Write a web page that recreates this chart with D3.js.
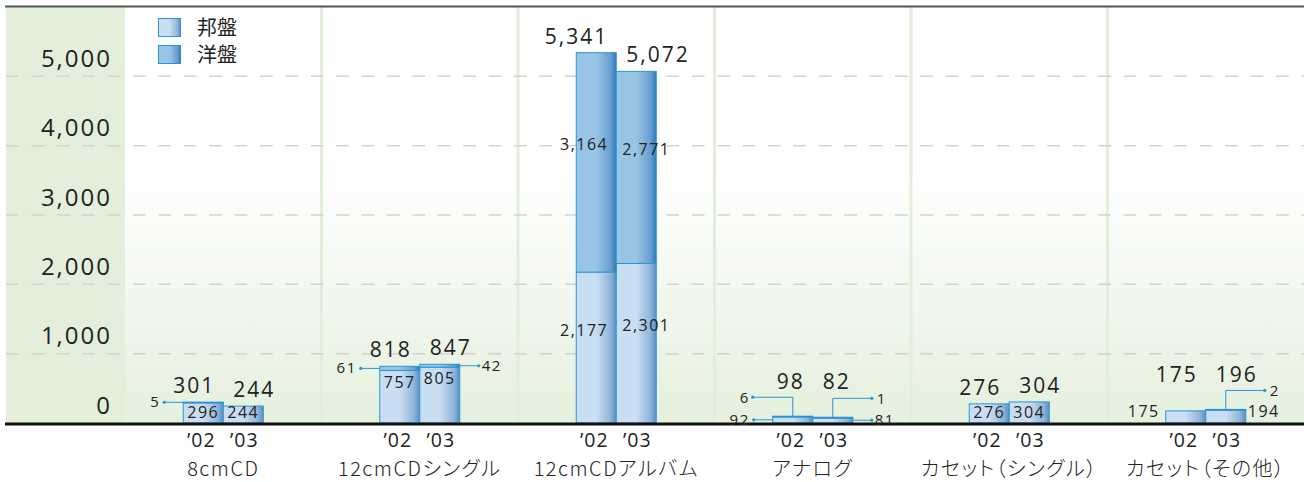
<!DOCTYPE html>
<html>
<head>
<meta charset="utf-8">
<script src="https://cdn.jsdelivr.net/npm/d3@7"></script>
<style>
  body { margin: 0; background: #fff; }
  svg { display: block; }
  .num { font-family: "Open Sans", sans-serif; fill: #222; }
  .jp { font-family: "Noto Sans CJK JP", sans-serif; fill: #222; font-feature-settings: "palt"; }
</style>
</head>
<body>
<div id="chart"></div>
<script>
// data
let categories = ["8cmCD", "12cmCDシングル", "12cmCDアルバム", "アナログ", "カセット（シングル）", "カセット（その他）"];
let years = ["’02", "’03"];
let series = ["邦盤", "洋盤"];
let domestic02 = [296, 757, 2177, 92, 276, 175];
let foreign02 = [5, 61, 3164, 6, 0, 0];
let domestic03 = [244, 805, 2301, 81, 304, 194];
let foreign03 = [0, 42, 2771, 1, 0, 2];
let yTicks = [0, 1000, 2000, 3000, 4000, 5000];

// how each small segment label is placed (in = inside bar)
let labelMode02 = [["in", "left"], ["in", "left"], ["mid", "mid"], ["left", "elbow"], ["in", "none"], ["side", "none"]];
let labelMode03 = [["in", "none"], ["in", "right"], ["mid", "mid"], ["right", "elbow"], ["in", "none"], ["side", "elbow"]];

let width = 1304, height = 482;
let plotLeft = 125, plotRight = 1304, plotTop = 7, base = 423;

let svg = d3.select("#chart").append("svg")
    .attr("width", width)
    .attr("height", height);

let defs = svg.append("defs");
let bg = defs.append("linearGradient").attr("id", "bg").attr("x1", 0).attr("x2", 0).attr("y1", 0).attr("y2", 1);
bg.append("stop").attr("offset", "0%").attr("stop-color", "#ffffff");
bg.append("stop").attr("offset", "40%").attr("stop-color", "#ffffff");
bg.append("stop").attr("offset", "100%").attr("stop-color", "#e5f0dd");

function barGrad(id, c1, c2, c3) {
    let g = defs.append("linearGradient").attr("id", id).attr("x1", 0).attr("x2", 1).attr("y1", 0).attr("y2", 0);
    g.append("stop").attr("offset", "0%").attr("stop-color", c1);
    g.append("stop").attr("offset", "50%").attr("stop-color", c1);
    g.append("stop").attr("offset", "85%").attr("stop-color", c2);
    g.append("stop").attr("offset", "100%").attr("stop-color", c3);
}
barGrad("dom", "#c9def2", "#90b6da", "#5a8fc2");
barGrad("for", "#98c4e6", "#6a9fcf", "#2f78b8");

let x = d3.scaleBand().domain(categories).range([plotLeft, plotRight]);
let xYear = d3.scaleBand().domain(years).range([x.bandwidth() / 2 - 40, x.bandwidth() / 2 + 40]);
let y = d3.scaleLinear().domain([0, 6000]).range([base, plotTop]);

// backgrounds
svg.append("rect").attr("x", plotLeft).attr("y", plotTop).attr("width", plotRight - plotLeft).attr("height", base - plotTop).attr("fill", "url(#bg)");
svg.append("rect").attr("x", 6).attr("y", plotTop).attr("width", plotLeft - 6).attr("height", base - plotTop).attr("fill", "#e3efdb");

// category separators
svg.selectAll(".sep").data(categories.slice(1)).enter()
    .append("line")
    .attr("x1", d => x(d)).attr("x2", d => x(d))
    .attr("y1", plotTop).attr("y2", base)
    .attr("stroke", "#e1eed9").attr("stroke-width", 3);

// grid
svg.selectAll(".grid").data(yTicks.slice(1)).enter()
    .append("line")
    .attr("x1", 6).attr("x2", plotRight)
    .attr("y1", d => y(d)).attr("y2", d => y(d))
    .attr("stroke", "#d2d2d2").attr("stroke-width", 1.5)
    .attr("stroke-dasharray", "12.7,12.7");

// y axis labels
let yAxis = svg.append("g").attr("transform", "translate(112,0)")
    .call(d3.axisLeft(y).tickValues(yTicks).tickSize(0).tickPadding(0).tickFormat(d3.format(",")));
yAxis.select(".domain").remove();
yAxis.selectAll("text")
    .attr("class", "num")
    .attr("dy", -10)
    .style("font-size", "24px")
    .style("letter-spacing", "2px")
    .attr("fill", "#222");

// frame line on top
svg.append("line").attr("x1", 5).attr("x2", plotRight).attr("y1", 6.5).attr("y2", 6.5).attr("stroke", "#555").attr("stroke-width", 2);

// bars
let rows = [];
categories.forEach(function(c, i) {
    rows.push({cat: c, year: years[0], dom: domestic02[i], fr: foreign02[i], mode: labelMode02[i], gi: i});
    rows.push({cat: c, year: years[1], dom: domestic03[i], fr: foreign03[i], mode: labelMode03[i], gi: i});
});

let bw = xYear.bandwidth();
function bx(d) { return x(d.cat) + xYear(d.year); }

let bars = svg.append("g");
bars.selectAll(".d").data(rows).enter()
    .append("rect")
    .attr("x", d => bx(d)).attr("width", bw)
    .attr("y", d => y(d.dom)).attr("height", d => base - y(d.dom))
    .attr("fill", "url(#dom)").attr("stroke", "#2a95d6").attr("stroke-width", 1);
bars.selectAll(".f").data(rows.filter(d => d.fr > 0)).enter()
    .append("rect")
    .attr("x", d => bx(d)).attr("width", bw)
    .attr("y", d => y(d.dom + d.fr)).attr("height", d => Math.max(y(d.dom) - y(d.dom + d.fr), 1))
    .attr("fill", "url(#for)").attr("stroke", "#2a95d6").attr("stroke-width", 1);

// baseline
svg.append("line").attr("x1", 5).attr("x2", plotRight).attr("y1", base + 1).attr("y2", base + 1).attr("stroke", "#111").attr("stroke-width", 3);

// segment labels
let lab = svg.append("g");
let lc = "#2a95d6";
function text(xp, yp, s, anchor, size) {
    lab.append("text").attr("class", "num")
        .attr("x", xp).attr("y", yp)
        .attr("text-anchor", anchor)
        .style("font-size", size + "px")
        .style("letter-spacing", "1.5px")
        .text(s);
}
function dot(xp, yp) {
    lab.append("circle").attr("cx", xp).attr("cy", yp).attr("r", 1.6).attr("fill", lc);
}
let fmt = d3.format(",");
let elbowY = {};

rows.forEach(function(d) {
    let x0 = bx(d), x1 = x0 + bw, xc = x0 + bw / 2;
    let is02 = d.year == years[0];
    [[d.dom, 0, d.mode[0]], [d.fr, d.dom, d.mode[1]]].forEach(function(s) {
        let v = s[0], mode = s[2];
        if (mode == "none" || v == 0) return;
        let t = y(s[1] + v), b = y(s[1]), mid = (t + b) / 2;
        if (mode == "in") {
            text(xc, Math.min(t + 17, base - 5), fmt(v), "middle", 16);
        } else if (mode == "mid") {
            if (is02) text(x1 - 8, mid - 12, fmt(v), "end", 16);
            else text(x0 + 6, mid - 12, fmt(v), "start", 16);
        } else if (mode == "left") {
            lab.append("line").attr("x1", x0).attr("x2", x0 - 19).attr("y1", mid).attr("y2", mid).attr("stroke", lc);
            dot(x0 - 19, mid);
            text(x0 - 23, mid + 5, fmt(v), "end", 15);
        } else if (mode == "right") {
            lab.append("line").attr("x1", x1).attr("x2", x1 + 19).attr("y1", mid).attr("y2", mid).attr("stroke", lc);
            dot(x1 + 19, mid);
            text(x1 + 22, mid + 5, fmt(v), "start", 15);
        } else if (mode == "side") {
            if (is02) text(x0 - 6, base - 6, fmt(v), "end", 16);
            else text(x1 + 2, base - 6, fmt(v), "start", 16);
        } else if (mode == "elbow") {
            let ey = t - 19;
            let ex = is02 ? x0 - 20 : x1 + 19;
            lab.append("path")
                .attr("d", "M" + xc + "," + t + "V" + ey + "H" + ex)
                .attr("fill", "none").attr("stroke", lc);
            dot(ex, ey);
            text(is02 ? ex - 3 : ex + 5, ey + 6, fmt(v), is02 ? "end" : "start", 15);
            elbowY[d.gi] = Math.min(elbowY[d.gi] || 1e9, ey);
        }
    });
});

// totals
rows.forEach(function(d) {
    let x0 = bx(d), x1 = x0 + bw;
    let ty = y(d.dom + d.fr) - 9;
    if (elbowY[d.gi] != null) ty = Math.min(ty, elbowY[d.gi] - 8);
    let is02 = d.year == years[0];
    lab.append("text").attr("class", "num")
        .attr("x", is02 ? x1 - 8 : x0 + 10).attr("y", ty)
        .attr("text-anchor", is02 ? "end" : "start")
        .style("font-size", "21px")
        .style("letter-spacing", "2px")
        .text(fmt(d.dom + d.fr));
});

// x axis: year labels and category names
let xl = svg.append("g");
rows.forEach(function(d) {
    xl.append("text").attr("class", "num")
        .attr("x", bx(d) + bw / 2 - (d.year == years[0] ? 2 : -1)).attr("y", 447)
        .attr("text-anchor", "middle")
        .style("font-size", "19.5px")
        .style("letter-spacing", "1px")
        .text(d.year);
});
let xAxis = svg.append("g").attr("transform", "translate(0,476)")
    .call(d3.axisBottom(x).tickSize(0).tickPadding(0));
xAxis.select(".domain").remove();
xAxis.selectAll("text")
    .attr("class", "jp")
    .attr("dy", 0)
    .style("font-size", "20px")
    .style("font-weight", 300)
    .style("letter-spacing", "1.5px")
    .attr("fill", "#222");

// legend
let leg = svg.append("g");
series.forEach(function(s, i) {
    leg.append("rect").attr("x", 158.5).attr("y", 18.5 + i * 27).attr("width", 22).attr("height", 18)
        .attr("fill", i == 0 ? "url(#dom)" : "url(#for)").attr("stroke", "#2a95d6");
    leg.append("text").attr("class", "jp")
        .attr("x", 197).attr("y", 28 + i * 27).attr("dy", "0.35em")
        .style("font-size", "20px")
        .attr("fill", "#333")
        .text(s);
});
</script>
</body>
</html>
